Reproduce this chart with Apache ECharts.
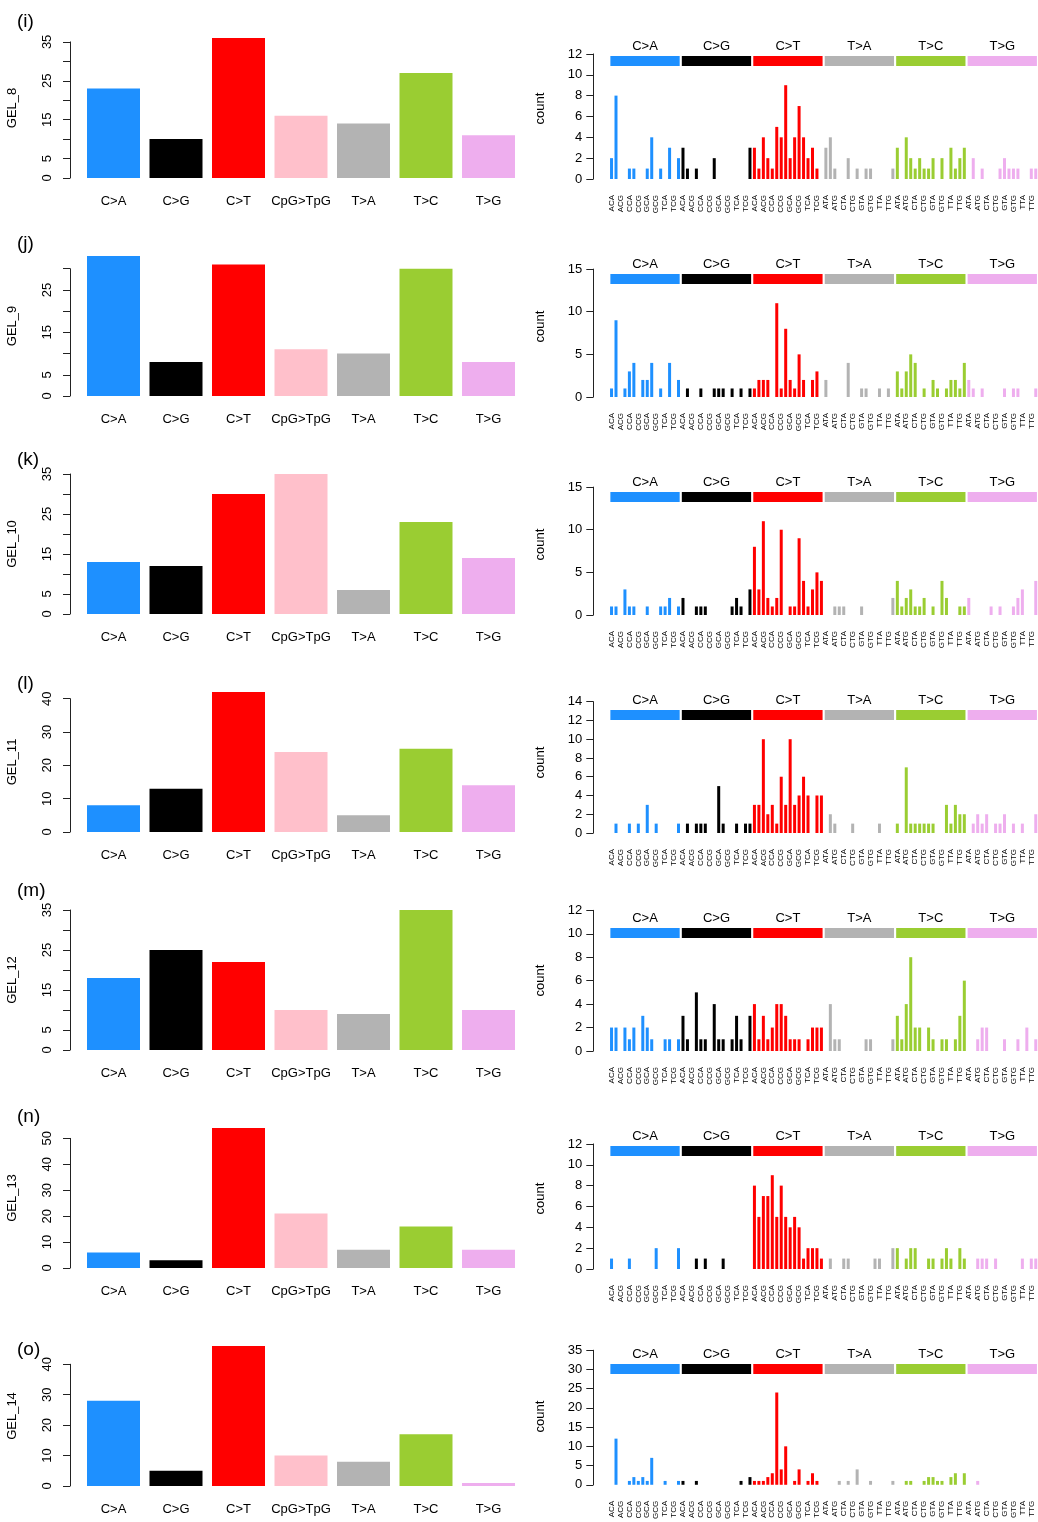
<!DOCTYPE html>
<html>
<head>
<meta charset="utf-8">
<script src="https://cdn.jsdelivr.net/npm/echarts@6/dist/echarts.min.js"></script>
<style>
  html, body { margin: 0; padding: 0; background: #fff; }
  #chart { width: 1038px; height: 1522px; }
</style>
</head>
<body>
<div id="chart"></div>
<script>
// samples, one row each
const sampleNames = ["GEL_8", "GEL_9", "GEL_10", "GEL_11", "GEL_12", "GEL_13", "GEL_14"];
const panelTags = ["(i)", "(j)", "(k)", "(l)", "(m)", "(n)", "(o)"];

// left panels: 7 mutation classes
const classNames = ["C>A", "C>G", "C>T", "CpG>TpG", "T>A", "T>C", "T>G"];
const gel8Classes = [23, 10, 36, 16, 14, 27, 11];
const gel9Classes = [33, 8, 31, 11, 10, 30, 8];
const gel10Classes = [13, 12, 30, 35, 6, 23, 14];
const gel11Classes = [8, 13, 42, 24, 5, 25, 14];
const gel12Classes = [18, 25, 22, 10, 9, 35, 10];
const gel13Classes = [6, 3, 54, 21, 7, 16, 7];
const gel14Classes = [28, 5, 46, 10, 8, 17, 1];

// right panels: 96 trinucleotide channels (6 types x 16 contexts)
const typeNames = ["C>A", "C>G", "C>T", "T>A", "T>C", "T>G"];
const cContexts = ["ACA","ACC","ACG","ACT","CCA","CCC","CCG","CCT","GCA","GCC","GCG","GCT","TCA","TCC","TCG","TCT"];
const tContexts = ["ATA","ATC","ATG","ATT","CTA","CTC","CTG","CTT","GTA","GTC","GTG","GTT","TTA","TTC","TTG","TTT"];

const gel8Counts = [
  2,8,0,0,1,1,0,0,1,4,0,1,0,3,0,2,
  3,1,0,1,0,0,0,2,0,0,0,0,0,0,0,3,
  3,1,4,2,1,5,4,9,2,4,7,4,2,3,1,0,
  3,4,1,0,0,2,0,1,0,1,1,0,0,0,0,1,
  3,0,4,2,1,2,1,1,2,0,2,0,3,1,2,3,
  0,2,0,1,0,0,0,1,2,1,1,1,0,0,1,1
];
const gel9Counts = [
  1,9,0,1,3,4,0,2,2,4,0,1,0,4,0,2,
  0,1,0,0,1,0,0,1,1,1,0,1,0,1,0,1,
  1,2,2,2,0,11,1,8,2,1,5,2,0,2,3,0,
  2,0,0,0,0,4,0,0,1,1,0,0,1,0,1,0,
  3,1,3,5,4,0,1,0,2,1,0,1,2,2,1,4,
  2,1,0,1,0,0,0,0,1,0,1,1,0,0,0,1
];
const gel10Counts = [
  1,1,0,3,1,1,0,0,1,0,0,1,1,2,0,1,
  2,0,0,1,1,1,0,0,0,0,0,1,2,1,0,3,
  8,3,11,2,1,2,10,0,1,1,9,4,1,3,5,4,
  0,0,1,1,1,0,0,0,1,0,0,0,0,0,0,2,
  4,1,2,3,1,1,2,0,1,0,4,2,0,0,1,1,
  2,0,0,0,0,1,0,1,0,0,1,2,3,0,0,4
];
const gel11Counts = [
  0,1,0,0,1,0,1,0,3,0,1,0,0,0,0,1,
  0,1,0,1,1,1,0,0,5,1,0,0,1,0,1,1,
  3,3,10,2,3,1,6,3,10,3,4,6,4,0,4,4,
  0,2,1,0,0,0,1,0,0,0,0,0,1,0,0,0,
  1,0,7,1,1,1,1,1,1,0,0,3,1,3,2,2,
  0,1,2,1,2,0,1,1,2,0,1,0,1,0,0,2
];
const gel12Counts = [
  2,2,0,2,1,2,0,3,2,1,0,0,1,1,0,1,
  3,1,0,5,1,1,0,4,1,1,0,1,3,1,0,3,
  4,1,3,1,2,4,4,3,1,1,1,0,1,2,2,2,
  0,4,1,1,0,0,0,0,0,1,1,0,0,0,0,1,
  3,1,4,8,2,2,0,2,1,0,1,1,0,1,3,6,
  0,0,1,2,2,0,0,0,1,0,0,1,0,2,0,1
];
const gel13Counts = [
  1,0,0,0,1,0,0,0,0,0,2,0,0,0,0,2,
  0,0,0,1,0,1,0,0,0,1,0,0,0,0,0,0,
  8,5,7,7,9,5,8,5,4,5,4,1,2,2,2,1,
  0,1,0,0,1,1,0,0,0,0,0,1,1,0,0,2,
  2,0,1,2,2,0,0,1,1,0,1,2,1,0,2,1,
  0,0,1,1,1,0,1,0,0,0,0,0,1,0,1,1
];
const gel14Counts = [
  0,12,0,0,1,2,1,2,1,7,0,0,1,0,0,1,
  1,0,0,1,0,0,0,0,0,0,0,0,0,1,0,2,
  1,1,1,2,3,24,4,10,0,1,4,0,1,3,1,0,
  0,0,0,1,0,1,0,4,0,0,1,0,0,0,0,1,
  0,0,1,1,0,0,1,2,2,1,1,0,2,3,0,3,
  0,0,1,0,0,0,0,0,0,0,0,0,0,0,0,0
];

// axis ticks
const leftTickStep = [5, 5, 5, 10, 5, 10, 10];
const leftTickLast = [35, 30, 35, 40, 35, 50, 40];
const leftTickShown = [
  [0, 5, 15, 25, 35], [0, 5, 15, 25], [0, 5, 15, 25, 35],
  [0, 10, 20, 30, 40], [0, 5, 15, 25, 35], [0, 10, 20, 30, 40, 50], [0, 10, 20, 30, 40]
];
const rightTickStep = [2, 5, 5, 2, 2, 2, 5];
const rightTickLast = [12, 15, 15, 14, 12, 12, 35];

const classSeries = [gel8Classes, gel9Classes, gel10Classes, gel11Classes, gel12Classes, gel13Classes, gel14Classes];
const countSeries = [gel8Counts, gel9Counts, gel10Counts, gel11Counts, gel12Counts, gel13Counts, gel14Counts];

const classColors = ["#1E90FF", "#000000", "#FF0000", "#FFC0CB", "#B3B3B3", "#9ACD32", "#EEAEEE"];
const typeColors = ["#1E90FF", "#000000", "#FF0000", "#B3B3B3", "#9ACD32", "#EEAEEE"];
const tagCenters = [18, 240, 456, 680, 887, 1113, 1346];

const contextLabels = [];
typeNames.forEach(t => {
  (t[0] === "C" ? cContexts : tContexts).forEach(c => contextLabels.push(c));
});

const font = "Liberation Sans, Arial, sans-serif";
const axisColor = "#222";
const rowH = 218;
const leftPx = 140;     // pixels from 0 to the tallest class bar
const rightPx = 93.8;   // pixels per (unit * tallest channel)
const fs = 13;

const option = {
  animation: false,
  textStyle: { fontFamily: font, color: "#000" },
  title: [],
  grid: [],
  xAxis: [],
  yAxis: [],
  series: []
};

sampleNames.forEach((name, r) => {
  const o = rowH * r;
  const classes = classSeries[r];
  const counts = countSeries[r];
  const lMax = Math.max(...classes);
  const rMax = Math.max(...counts);
  const g = option.grid.length;

  option.title.push({
    text: panelTags[r], left: 12, top: tagCenters[r] - 11,
    textStyle: { fontSize: 19, fontWeight: "normal", color: "#000", fontFamily: font }
  });

  const lAxisH = leftPx * leftTickLast[r] / lMax;
  const rAxisH = rightPx * rightTickLast[r] / rMax;

  // 0: class bars, 1: class axis, 2: channel bars, 3: "count" name holder, 4: type strip
  option.grid.push(
    { left: 82.25, top: o + 38, width: 437.5, height: leftPx },
    { left: 70, top: o + 178 - lAxisH, width: 10, height: lAxisH },
    { left: 609.3, top: o + 179 - rAxisH, width: 431, height: rAxisH },
    { left: 609.3, top: o + 38, width: 431, height: 141 },
    { left: 609.3, top: o + 56, width: 431, height: 10 }
  );

  option.xAxis.push(
    {
      gridIndex: g, type: "category", data: classNames,
      axisLine: { show: false }, axisTick: { show: false },
      axisLabel: { interval: 0, margin: 17, fontSize: fs, color: "#000", fontFamily: font }
    },
    { gridIndex: g + 1, type: "value", min: 0, max: 1, show: false },
    {
      gridIndex: g + 2, type: "category", data: contextLabels,
      axisLine: { show: false }, axisTick: { show: false },
      axisLabel: { interval: 1, rotate: 90, margin: 16, fontSize: 8, color: "#000", fontFamily: font }
    },
    { gridIndex: g + 3, type: "value", min: 0, max: 1, show: false },
    { gridIndex: g + 4, type: "category", data: typeNames, show: false }
  );

  option.yAxis.push(
    {
      gridIndex: g, type: "value", min: 0, max: lMax,
      axisLine: { show: false }, axisTick: { show: false }, axisLabel: { show: false },
      splitLine: { show: false },
      name: name, nameLocation: "middle", nameGap: 63, nameRotate: 90,
      nameTextStyle: { fontSize: fs, color: "#000", fontFamily: font }
    },
    {
      gridIndex: g + 1, type: "value", min: 0, max: leftTickLast[r], interval: leftTickStep[r],
      axisLine: { show: true, lineStyle: { color: axisColor, width: 1 } },
      axisTick: { show: true, length: 7, lineStyle: { color: axisColor } },
      axisLabel: {
        rotate: 90, margin: 16, fontSize: fs, color: "#000", fontFamily: font,
        formatter: v => (leftTickShown[r].includes(v) ? String(v) : "")
      },
      splitLine: { show: false }
    },
    {
      gridIndex: g + 2, type: "value", min: 0, max: rightTickLast[r], interval: rightTickStep[r],
      offset: 16,
      axisLine: { show: true, lineStyle: { color: axisColor, width: 1 } },
      axisTick: { show: true, length: 7, lineStyle: { color: axisColor } },
      axisLabel: { margin: 11, fontSize: fs, color: "#000", fontFamily: font },
      splitLine: { show: false }
    },
    {
      gridIndex: g + 3, type: "value", min: 0, max: 1,
      axisLine: { show: false }, axisTick: { show: false }, axisLabel: { show: false },
      splitLine: { show: false },
      name: "count", nameLocation: "middle", nameGap: 62, nameRotate: 90,
      nameTextStyle: { fontSize: fs, color: "#000", fontFamily: font }
    },
    { gridIndex: g + 4, type: "value", min: 0, max: 1, show: false }
  );

  option.series.push(
    {
      type: "bar", xAxisIndex: g, yAxisIndex: g, barWidth: 53, silent: true,
      data: classes.map((v, i) => ({ value: v, itemStyle: { color: classColors[i] } }))
    },
    {
      type: "bar", xAxisIndex: g + 2, yAxisIndex: g + 2, barWidth: 3, silent: true,
      data: counts.map((v, i) => ({ value: v, itemStyle: { color: typeColors[Math.floor(i / 16)] } }))
    },
    {
      type: "bar", xAxisIndex: g + 4, yAxisIndex: g + 4, barWidth: "97%", silent: true,
      data: typeNames.map((t, i) => ({ value: 1, itemStyle: { color: typeColors[i] } })),
      label: {
        show: true, position: "top", distance: 3, formatter: "{b}",
        fontSize: fs, color: "#000", fontFamily: font
      }
    }
  );
});

const chart = echarts.init(document.getElementById("chart"), null, { renderer: "canvas" });
chart.setOption(option);
</script>
</body>
</html>
